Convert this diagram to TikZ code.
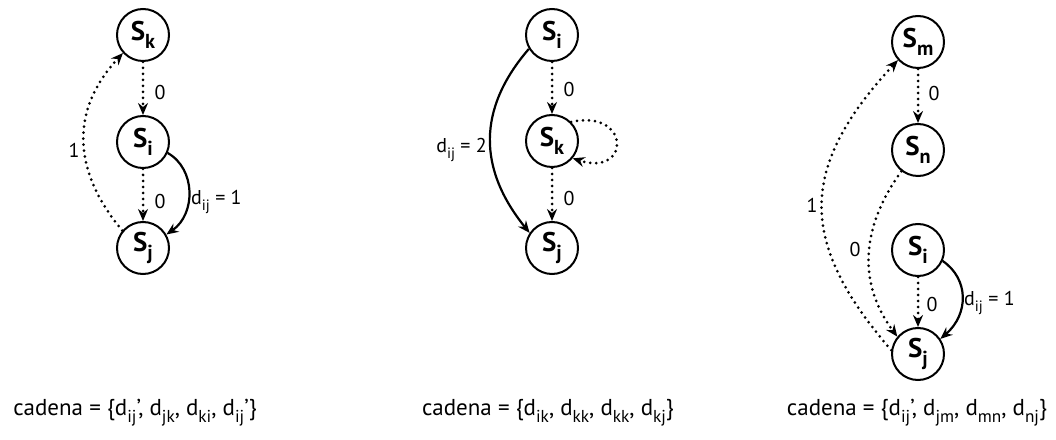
\documentclass[tikz,border=0pt]{standalone}
\usepackage{fontspec}
\setmainfont{PT Sans}
\usetikzlibrary{arrows.meta}
\newcommand{\lo}[1]{\raisebox{-0.3em}{\scalebox{0.75}{#1}}}
\begin{document}
\begin{tikzpicture}[x=1pt,y=1pt,
 st/.style={circle,draw,line width=2pt,minimum size=52pt,inner sep=0pt,font=\fontsize{27}{29}\selectfont\bfseries},
 dot/.style={line width=3pt,dash pattern=on 0pt off 6pt,line cap=round},
 sol/.style={line width=2.2pt},
 tip/.style={-{Stealth[length=12pt,width=10pt,inset=4pt]}},
 lab/.style={font=\fontsize{20}{22}\selectfont,inner sep=1pt},
 captxt/.style={font=\fontsize{23}{25}\selectfont,inner sep=0pt}]
\useasboundingbox (0,0) rectangle (1056,439);
% ---------- diagram 1
\node[st] (k1) at (143,404) {S\lo{k}};
\node[st] (i1) at (143,297) {S\lo{i}};
\node[st] (j1) at (143,191) {S\lo{j}};
\draw[dot,tip] (k1) -- (i1);
\draw[dot,tip] (i1) -- (j1);
\draw[sol,tip] (i1.-24) .. controls (196,270) and (196,225) .. (j1.30);
\draw[dot,tip] (j1.140) .. controls (71,270) and (71,330) .. (k1.222);
\node[lab] (l1a) at (160,346) {0};
\node[lab] (l1b) at (160,237) {0};
\node[lab,anchor=west] (l1c) at (190,237) {d\lo{ij} = 1};
\node[lab] (l1d) at (74,289) {1};
\node[captxt] (c1) at (135,26) {cadena = \{d\lo{ij}', d\lo{jk}, d\lo{ki}, d\lo{ij}'\}};
% ---------- diagram 2
\node[st] (i2) at (552,404) {S\lo{i}};
\node[st] (k2) at (552,298) {S\lo{k}};
\node[st] (j2) at (552,191) {S\lo{j}};
\draw[dot,tip] (i2) -- (k2);
\draw[dot,tip] (k2) -- (j2);
\draw[sol,tip] (i2.211) .. controls (477,330) and (478,270) .. (j2.146);
\draw[dot,tip] (k2.45) .. controls (631,330) and (631,262) .. (k2.-40);
\node[lab] (l2a) at (569,349) {0};
\node[lab] (l2b) at (569,240) {0};
\node[lab,anchor=east] (l2c) at (488,289) {d\lo{ij} = 2};
\node[captxt] (c2) at (548,26) {cadena = \{d\lo{ik}, d\lo{kk}, d\lo{kk}, d\lo{kj}\}};
% ---------- diagram 3
\node[st] (m3) at (918,397) {S\lo{m}};
\node[st] (n3) at (918,289) {S\lo{n}};
\node[st] (i3) at (918,189) {S\lo{i}};
\node[st] (j3) at (918,85) {S\lo{j}};
\draw[dot,tip] (m3) -- (n3);
\draw[dot,tip] (i3) -- (j3);
\draw[sol,tip] (i3.-24) .. controls (969,160) and (969,125) .. (j3.34);
\draw[dot,tip] (j3.172) .. controls (798,197) and (798,271) .. (m3.222);
\draw[dot,tip] (n3.232) .. controls (859,209) and (859,154) .. (j3.140);
\node[lab] (l3a) at (934,345) {0};
\node[lab] (l3b) at (932,135) {0};
\node[lab,anchor=west] (l3c) at (963,136) {d\lo{ij} = 1};
\node[lab] (l3d) at (855,189) {0};
\node[lab] (l3e) at (812,234) {1};
\node[captxt] (c3) at (917,26) {cadena = \{d\lo{ij}', d\lo{jm}, d\lo{mn}, d\lo{nj}\}};
\end{tikzpicture}
\end{document}
